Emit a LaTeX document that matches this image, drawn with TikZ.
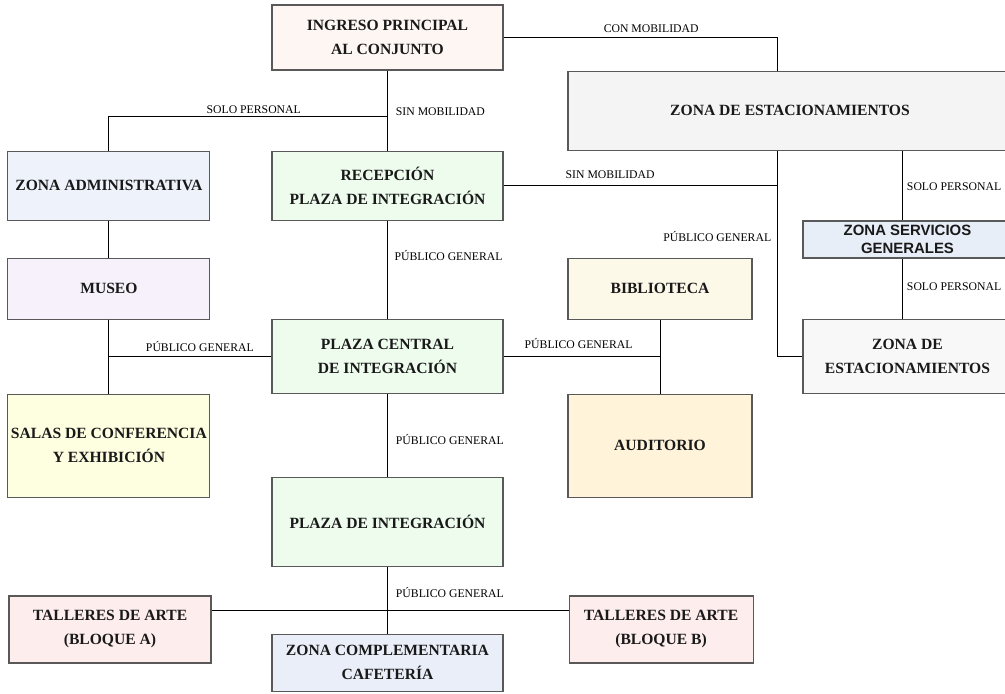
\documentclass[tikz,border=0pt]{standalone}
\usepackage{fontspec}
\setmainfont{Liberation Serif}
\newfontfamily\arialfont{Liberation Sans}
\usetikzlibrary{positioning}
\definecolor{ingresofill}{HTML}{FDF6F3}
\definecolor{estacfill}{HTML}{F4F4F4}
\definecolor{adminfill}{HTML}{EEF2FB}
\definecolor{plazafill}{HTML}{EEFCEE}
\definecolor{museofill}{HTML}{F6F1FA}
\definecolor{salasfill}{HTML}{FEFEE0}
\definecolor{bibliofill}{HTML}{FDF9E9}
\definecolor{auditfill}{HTML}{FFF3DA}
\definecolor{servfill}{HTML}{E8EEF8}
\definecolor{tallerfill}{HTML}{FDEDED}
\definecolor{complefill}{HTML}{E9EEF8}

\begin{document}
\begin{tikzpicture}[
    zone/.style={rectangle, draw=black!65, line width=0.8pt, align=center, inner xsep=1pt, text=black!90, font=\fontsize{11.7}{18}\selectfont\bfseries},
    lbl/.style={font=\fontsize{8.8}{10}\selectfont, inner sep=2pt},
    link/.style={draw=black, line width=0.75pt}
]
    \useasboundingbox (0,0) rectangle (753.75pt,-519.75pt);
    \fill[white] (0,0) rectangle (753.75pt,-519.75pt);

    % central column
    \node[zone, fill=ingresofill, minimum width=173.25pt, minimum height=48.75pt] (ingreso) at (290.6pt,-28.1pt) {INGRESO PRINCIPAL\\AL CONJUNTO};
    \node[zone, fill=plazafill, minimum width=173.25pt, minimum height=51.75pt, below=60pt of ingreso] (recep) {RECEPCIÓN\\PLAZA DE INTEGRACIÓN};
    \node[zone, fill=plazafill, minimum width=173.25pt, minimum height=55.5pt, below=73.5pt of recep] (central) {PLAZA CENTRAL\\DE INTEGRACIÓN};
    \node[zone, fill=plazafill, minimum width=173.25pt, minimum height=66.75pt, below=62.25pt of central] (plazaint) {PLAZA DE INTEGRACIÓN};
    \node[zone, fill=complefill, minimum width=173.25pt, minimum height=42.75pt, below=50.25pt of plazaint] (comple) {ZONA COMPLEMENTARIA\\CAFETERÍA};

    % left column
    \node[zone, fill=adminfill, minimum width=151.5pt, minimum height=51.75pt, left=45.75pt of recep] (admin) {ZONA ADMINISTRATIVA};
    \node[zone, fill=museofill, minimum width=151.5pt, minimum height=45.75pt, below=27.75pt of admin] (museo) {MUSEO};
    \node[zone, fill=salasfill, minimum width=151.5pt, minimum height=77.25pt, below=55.5pt of museo] (salas) {SALAS DE CONFERENCIA\\Y EXHIBICIÓN};
    \node[zone, fill=tallerfill, minimum width=151.5pt, minimum height=50.25pt] (tallerA) at (82.5pt,-472.1pt) {TALLERES DE ARTE\\(BLOQUE A)};

    % right side
    \node[zone, fill=tallerfill, minimum width=138pt, minimum height=50.25pt, right=267.75pt of tallerA] (tallerB) {TALLERES DE ARTE\\(BLOQUE B)};
    \node[zone, fill=bibliofill, minimum width=138pt, minimum height=45.75pt] (biblio) at (495pt,-216.4pt) {BIBLIOTECA};
    \node[zone, fill=auditfill, minimum width=138pt, minimum height=77.25pt, below=55.5pt of biblio] (audit) {AUDITORIO};
    \node[zone, fill=estacfill, minimum width=333pt, minimum height=59.25pt] (estac) at (592.5pt,-82.9pt) {ZONA DE ESTACIONAMIENTOS};
    \node[zone, fill=servfill, minimum width=156.75pt, minimum height=27.75pt, inner ysep=0.5pt, font=\arialfont\fontsize{11.2}{13}\selectfont\bfseries] (serv) at (680.6pt,-179.6pt) {ZONA SERVICIOS\\GENERALES};
    \node[zone, fill=estacfill!60!white, minimum width=156.75pt, minimum height=55.5pt, below=45pt of serv] (estac2) {ZONA DE\\ESTACIONAMIENTOS};

    % junctions
    \coordinate (jadm) at ([yshift=-34.5pt]ingreso.south);
    \coordinate (jest) at ([xshift=-9.75pt]estac.south);
    \coordinate (jsrv) at ([xshift=-3.75pt]serv.north);
    \coordinate (jtal) at ([yshift=-33pt]plazaint.south);

    % connections
    \draw[link] (ingreso.east) -| node[lbl, pos=0.27, above=1pt] {CON MOBILIDAD} ([xshift=-9.75pt]estac.north);
    \draw[link] (ingreso.south) -- node[lbl, pos=0.52, right=4pt] {SIN MOBILIDAD} (recep.north);
    \draw[link] (jadm) -| node[lbl, pos=0.24, above] {SOLO PERSONAL} (admin.north);
    \draw[link] (recep.east) -- node[lbl, pos=0.39, above=3pt] {SIN MOBILIDAD} (recep.east -| jest);
    \draw[link] (jest) |- node[lbl, pos=0.21, left=2pt] {PÚBLICO GENERAL} (estac2.west);
    \draw[link] (jsrv |- estac.south) -- node[lbl, pos=0.52, right=1pt] {SOLO PERSONAL} (jsrv);
    \draw[link] (serv.south -| jsrv) -- node[lbl, pos=0.475, right=1pt] {SOLO PERSONAL} (estac2.north -| jsrv);
    \draw[link] (recep.south) -- node[lbl, pos=0.36, right=3pt] {PÚBLICO GENERAL} (central.north);
    \draw[link] (admin.south) -- (museo.north);
    \draw[link] (museo.south) -- (salas.north);
    \draw[link] (central.west) -- node[lbl, pos=0.44, above=1pt] {PÚBLICO GENERAL} (central.west -| museo.south);
    \draw[link] (central.east) -- node[lbl, pos=0.48, above=3pt] {PÚBLICO GENERAL} (central.east -| biblio.south);
    \draw[link] (biblio.south) -- (audit.north);
    \draw[link] (central.south) -- node[lbl, pos=0.55, right=4pt] {PÚBLICO GENERAL} (plazaint.north);
    \draw[link] (plazaint.south) -- node[lbl, pos=0.38, right=4pt] {PÚBLICO GENERAL} (comple.north);
    \draw[link] (jtal -| tallerA.east) -- (jtal -| tallerB.west);
\end{tikzpicture}
\end{document}
